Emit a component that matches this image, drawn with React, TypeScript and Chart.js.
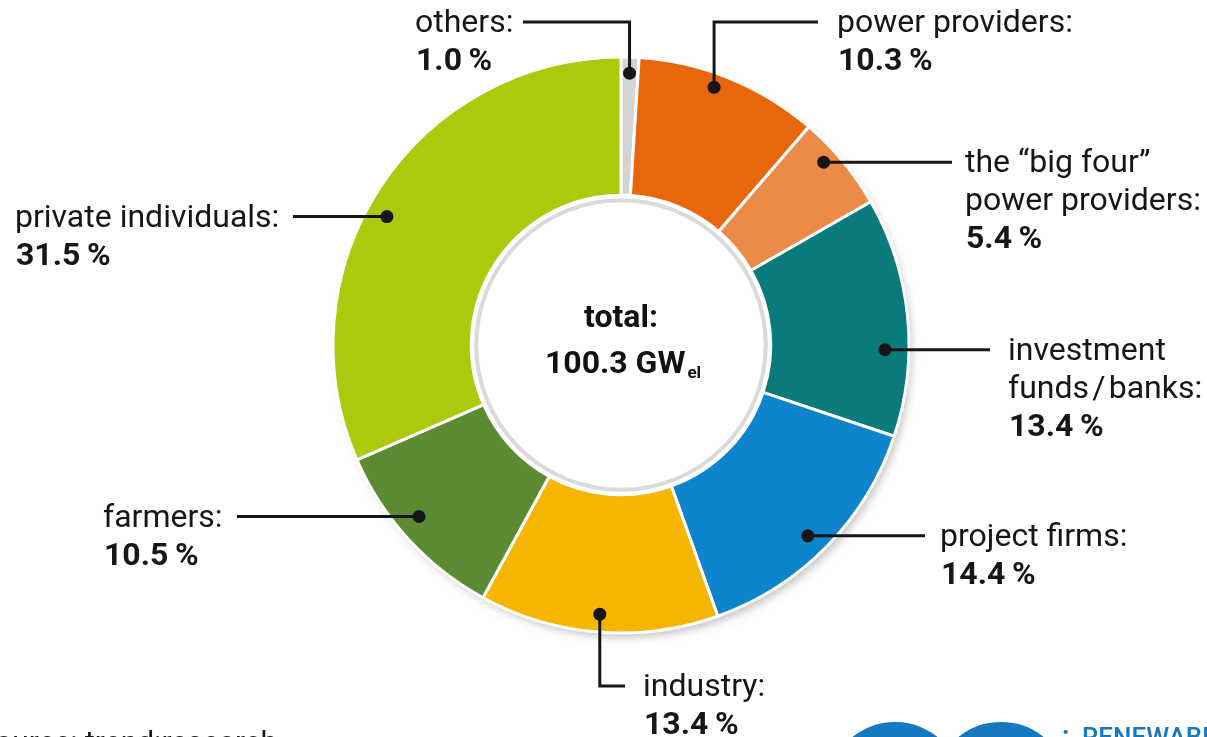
import React, { useEffect, useRef } from 'react';
import { Chart, registerables } from 'chart.js';

Chart.register(...registerables);

// ---- data ----
const categories = [
  'others',
  'power providers',
  'the “big four” power providers',
  'investment funds / banks',
  'project firms',
  'industry',
  'farmers',
  'private individuals',
];
const shares = [1.0, 10.3, 5.4, 13.4, 14.4, 13.4, 10.5, 31.5];
const labelLines = [
  ['others:'],
  ['power providers:'],
  ['the “big four”', 'power providers:'],
  ['investment', 'funds\u200A/\u200Abanks:'],
  ['project firms:'],
  ['industry:'],
  ['farmers:'],
  ['private individuals:'],
];
const totalTitle = 'total:';
const totalValue = '100.3 GW';
const totalUnitSub = 'el';
const sourceText = 'Source: trend:research';
const logoText = 'RENEWABLE';

// ---- styles / layout ----
const sliceColors = ['#d3d3d3', '#e8670c', '#ec8b48', '#0b7a7c', '#0d84cb', '#f6b500', '#5c8b33', '#adc90b'];
const LABEL_LAYOUT = [
  { kind: 'up', lineY: 22, lineX: 523, textX: 415, angleOffset: 0, inset: 16 },
  { kind: 'up', lineY: 22, lineX: 818, textX: 837, angleOffset: -2.3, inset: 14 },
  { kind: 'h', lineX: 952, textX: 965, angleOffset: -2.5, inset: 15 },
  { kind: 'h', lineX: 990, textX: 1008, angleOffset: 6.7, inset: 24 },
  { kind: 'h', lineX: 925, textX: 940, angleOffset: 1.2, inset: 21 },
  { kind: 'down', lineY: 686, lineX: 625, textX: 643, angleOffset: 0, inset: 18 },
  { kind: 'h', lineX: 237, textX: 103, angleOffset: 2.1, inset: 23 },
  { kind: 'h', lineX: 293, textX: 15, angleOffset: -4.5, inset: 21 },
];
const W = 1207;
const H = 737;
const FONT = 'Roboto, "Open Sans", sans-serif';
const INK = '#161616';
const LINE_GAP = 38;

const annotatePlugin = {
  id: 'annotate',
  beforeDatasetsDraw(chart: any) {
    const ctx = chart.ctx;
    const arc = chart.getDatasetMeta(0).data[0];
    if (!arc) return;
    const { x, y, outerRadius } = arc.getProps(['x', 'y', 'outerRadius'], true);
    ctx.save();
    ctx.shadowColor = 'rgba(0,0,0,0.25)';
    ctx.shadowBlur = 10;
    ctx.shadowOffsetX = 4;
    ctx.shadowOffsetY = 6;
    ctx.beginPath();
    ctx.arc(x, y, outerRadius - 2, 0, Math.PI * 2);
    ctx.fillStyle = '#ffffff';
    ctx.fill();
    ctx.restore();
  },
  afterDatasetsDraw(chart: any) {
    const ctx = chart.ctx;
    const arcs = chart.getDatasetMeta(0).data;
    if (!arcs.length) return;
    const { x: cx, y: cy, innerRadius } = arcs[0].getProps(['x', 'y', 'innerRadius'], true);

    // inner grey ring
    ctx.save();
    ctx.beginPath();
    ctx.arc(cx, cy, innerRadius - 5, 0, Math.PI * 2);
    ctx.strokeStyle = '#dadada';
    ctx.lineWidth = 4;
    ctx.stroke();
    ctx.restore();

    // centre text
    ctx.save();
    ctx.fillStyle = '#111';
    ctx.textBaseline = 'alphabetic';
    ctx.font = `bold 32px ${FONT}`;
    ctx.textAlign = 'center';
    ctx.fillText(totalTitle, cx, cy - 18);
    const wm = ctx.measureText(totalValue).width;
    ctx.font = `bold 17px ${FONT}`;
    const ws = ctx.measureText(totalUnitSub).width;
    const startX = cx + 2 - (wm + ws + 2) / 2;
    ctx.textAlign = 'left';
    ctx.font = `bold 32px ${FONT}`;
    ctx.fillText(totalValue, startX, cy + 28);
    ctx.font = `bold 17px ${FONT}`;
    ctx.fillText(totalUnitSub, startX + wm + 2, cy + 33);
    ctx.restore();

    // labels with leader lines
    arcs.forEach((arc: any, i: number) => {
      const lay = LABEL_LAYOUT[i];
      const p = arc.getProps(['startAngle', 'endAngle', 'outerRadius'], true);
      const a = (p.startAngle + p.endAngle) / 2 + (lay.angleOffset * Math.PI) / 180;
      const r = p.outerRadius - lay.inset;
      const dx = cx + r * Math.cos(a);
      const dy = cy + r * Math.sin(a);
      ctx.save();
      ctx.strokeStyle = INK;
      ctx.fillStyle = INK;
      ctx.lineWidth = 3;
      ctx.lineJoin = 'miter';
      ctx.beginPath();
      let textY: number;
      if (lay.kind === 'h') {
        ctx.moveTo(dx, dy);
        ctx.lineTo(lay.lineX, dy);
        textY = dy + 10;
      } else {
        ctx.moveTo(dx, dy);
        ctx.lineTo(dx, lay.lineY!);
        ctx.lineTo(lay.lineX, lay.lineY!);
        textY = lay.lineY! + 10;
      }
      ctx.stroke();
      ctx.beginPath();
      ctx.arc(dx, dy, 6.5, 0, Math.PI * 2);
      ctx.fill();

      ctx.textAlign = 'left';
      ctx.textBaseline = 'alphabetic';
      ctx.font = `32px ${FONT}`;
      const lines = labelLines[i];
      lines.forEach((t, k) => ctx.fillText(t, lay.textX, textY + k * LINE_GAP));
      ctx.font = `bold 32px ${FONT}`;
      ctx.fillText(shares[i].toFixed(1) + '\u2009%', lay.textX + 1, textY + lines.length * LINE_GAP);
      ctx.restore();
    });

    // source (cut off at bottom)
    ctx.save();
    ctx.fillStyle = INK;
    ctx.font = `30px ${FONT}`;
    ctx.textAlign = 'right';
    ctx.textBaseline = 'alphabetic';
    ctx.fillText(sourceText, 277, 752);
    ctx.restore();

    // logo (cut off)
    ctx.save();
    ctx.fillStyle = '#1479c1';
    ctx.strokeStyle = '#1479c1';
    ctx.beginPath();
    ctx.arc(895, 790, 68, 0, Math.PI * 2);
    ctx.fill();
    ctx.lineWidth = 18;
    ctx.beginPath();
    ctx.arc(1001, 790, 59, 0, Math.PI * 2);
    ctx.stroke();
    ctx.font = `bold 26px ${FONT}`;
    ctx.textAlign = 'left';
    ctx.fillText(':', 1062, 744);
    ctx.font = `500 26px ${FONT}`;
    ctx.fillText(logoText, 1082, 746);
    ctx.restore();
  },
};

export default function App() {
  const ref = useRef<HTMLCanvasElement | null>(null);
  useEffect(() => {
    document.body.style.margin = '0';
    const canvas = ref.current!;
    const chart = new Chart(canvas, {
      type: 'doughnut',
      data: {
        labels: categories,
        datasets: [
          {
            data: shares,
            backgroundColor: sliceColors,
            borderColor: '#ffffff',
            borderWidth: 3,
          },
        ],
      },
      options: {
        responsive: false,
        animation: false,
        cutout: '52%',
        rotation: 0,
        layout: { padding: { left: 331.5, right: 296.5, top: 55.5, bottom: 102.5 } },
        plugins: {
          legend: { display: false },
          tooltip: { enabled: false },
        },
      },
      plugins: [annotatePlugin],
    });
    return () => chart.destroy();
  }, []);
  return (
    <div style={{ position: 'absolute', left: 0, top: 0, width: W, height: H, overflow: 'hidden', background: '#fff' }}>
      <canvas ref={ref} width={W} height={H} style={{ width: W, height: H, display: 'block' }} />
    </div>
  );
}
